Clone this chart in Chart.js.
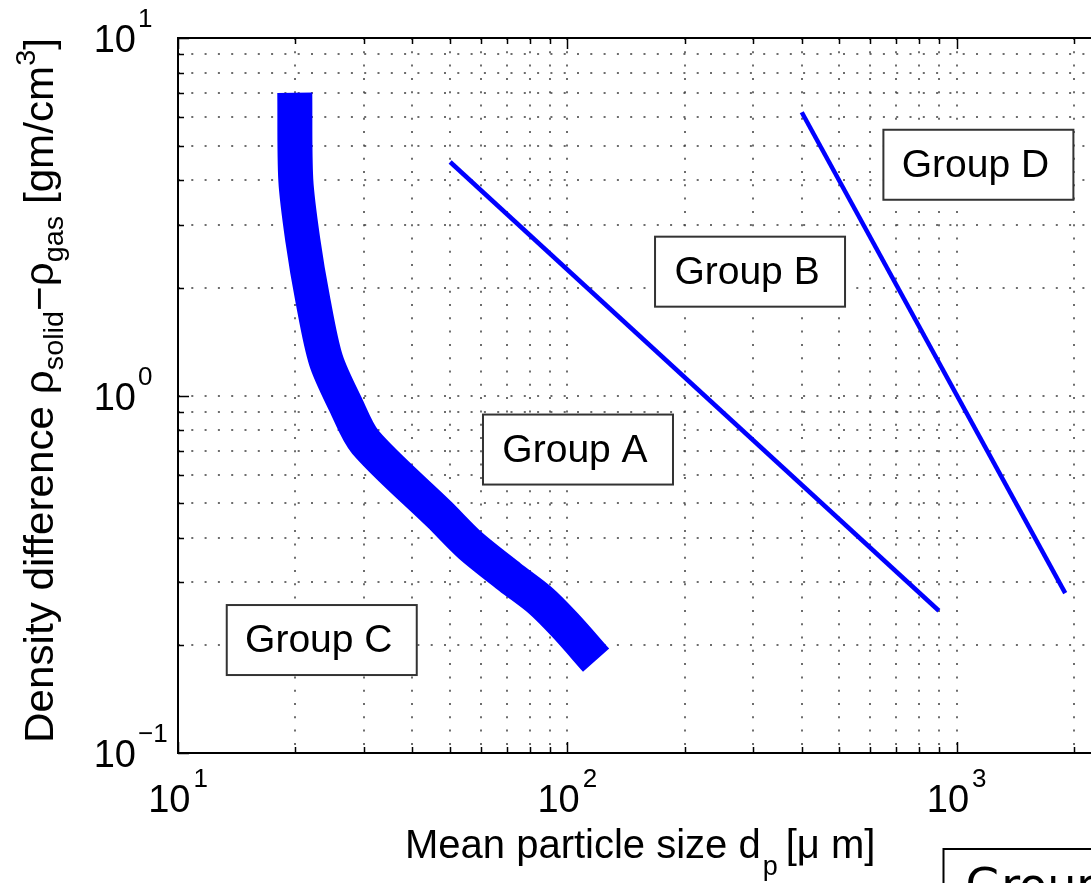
<!DOCTYPE html>
<html>
<head>
<meta charset="utf-8">
<script src="https://cdn.jsdelivr.net/npm/chart.js@4.4.1/dist/chart.umd.min.js"></script>
<style>
  html, body { margin: 0; padding: 0; background: #fff; }
</style>
</head>
<body>
<canvas id="chart" width="1091" height="883"></canvas>
<script>
// Geldart groups: boundary lines, mean particle size (um) vs density difference (g/cm3)
const acSizes   = [19.95, 20.07, 20.92, 22.2, 23.98, 26.99, 30.3, 47.09, 56.22, 71.24, 85.06, 98.65, 118.55];
const acDensity = [7.03, 4.01, 2.72, 1.85, 1.257, 0.94, 0.74, 0.463, 0.3815, 0.3103, 0.2677, 0.2278, 0.1818];
const abSizes   = [50, 900];
const abDensity = [4.5, 0.25];
const bdSizes   = [400, 1900];
const bdDensity = [6.2, 0.28];

const groupNames   = ['Group A', 'Group B', 'Group C', 'Group D'];
const groupSizes   = [106.5, 294.6, 23.4, 1137];
const groupDensity = [0.706, 2.22, 0.207, 4.42];

const xDecades = [10, 100, 1000];
const yDecades = [0.1, 1, 10];
const xTickLabels = [['10', '1'], ['10', '2'], ['10', '3']];
const yTickLabels = [['10', '\u22121'], ['10', '0'], ['10', '1']];
const gridSteps = [1, 2, 3, 4, 5, 6, 7, 8, 9];

const FONT = '"Liberation Sans", Arial, Helvetica, sans-serif';

function pts(xs, ys) {
    return xs.map((x, i) => ({ x: x, y: ys[i] }));
}

// every 1..9 x 10^n inside the axis range
function gridValues(decades, min, max) {
    const out = [];
    decades.forEach(d => gridSteps.forEach(s => {
        const v = +(d * s).toPrecision(6);
        if (v >= min - 1e-9 && v <= max + 1e-9) out.push(v);
    }));
    const last = decades[decades.length - 1] * 10;
    if (last <= max && out.indexOf(last) < 0) out.push(last);
    return out;
}

const axisDecor = {
    id: 'axisDecor',
    afterDatasetsDraw(chart) {
        const ctx = chart.ctx;
        const xs = chart.scales.x, ys = chart.scales.y;
        // group text boxes
        ctx.save();
        ctx.font = '39px ' + FONT;
        ctx.textAlign = 'center';
        ctx.textBaseline = 'alphabetic';
        groupNames.forEach((name, i) => {
            const cx = xs.getPixelForValue(groupSizes[i]);
            const cy = ys.getPixelForValue(groupDensity[i]);
            const w = 190, h = 70;
            ctx.fillStyle = '#fff';
            ctx.fillRect(cx - w / 2, cy - h / 2, w, h);
            ctx.strokeStyle = '#333';
            ctx.lineWidth = 2;
            ctx.strokeRect(cx - w / 2, cy - h / 2, w, h);
            ctx.fillStyle = '#000';
            ctx.fillText(name, cx - 3, cy + 12);
        });
        ctx.restore();
    },
    afterDraw(chart) {
        const ctx = chart.ctx;
        const a = chart.chartArea;
        const xs = chart.scales.x, ys = chart.scales.y;
        ctx.save();

        // inward tick marks
        ctx.strokeStyle = '#000';
        ctx.lineWidth = 1.5;
        ctx.beginPath();
        gridValues(xDecades, xs.min, xs.max).forEach(v => {
            const px = Math.round(xs.getPixelForValue(v)) + 0.5;
            const len = xDecades.indexOf(v) >= 0 ? 11 : 6;
            ctx.moveTo(px, a.bottom); ctx.lineTo(px, a.bottom - len);
            ctx.moveTo(px, a.top); ctx.lineTo(px, a.top + len);
        });
        gridValues(yDecades, ys.min, ys.max).forEach(v => {
            const py = Math.round(ys.getPixelForValue(v)) + 0.5;
            const len = yDecades.indexOf(v) >= 0 ? 11 : 6;
            ctx.moveTo(a.left, py); ctx.lineTo(a.left + len, py);
        });
        ctx.stroke();

        // axes box (right side is off the picture)
        ctx.lineWidth = 2;
        ctx.beginPath();
        ctx.moveTo(a.right + 5, a.top);
        ctx.lineTo(a.left, a.top);
        ctx.lineTo(a.left, a.bottom);
        ctx.lineTo(a.right + 5, a.bottom);
        ctx.stroke();

        // tick labels 10^n
        ctx.fillStyle = '#000';
        ctx.textBaseline = 'alphabetic';
        xDecades.forEach((v, i) => {
            const px = xs.getPixelForValue(v);
            ctx.font = '38px ' + FONT;
            const wm = ctx.measureText(xTickLabels[i][0]).width;
            ctx.font = '26px ' + FONT;
            const we = ctx.measureText(xTickLabels[i][1]).width;
            const x0 = px - (wm + 3 + we) / 2;
            ctx.font = '38px ' + FONT;
            ctx.textAlign = 'left';
            ctx.fillText(xTickLabels[i][0], x0, a.bottom + 59);
            ctx.font = '26px ' + FONT;
            ctx.fillText(xTickLabels[i][1], x0 + wm + 3, a.bottom + 34);
        });
        yDecades.forEach((v, i) => {
            const py = ys.getPixelForValue(v);
            ctx.font = '38px ' + FONT;
            ctx.textAlign = 'right';
            ctx.fillText(yTickLabels[i][0], a.left - 42, py + 14);
            ctx.font = '26px ' + FONT;
            ctx.textAlign = 'left';
            ctx.fillText(yTickLabels[i][1], a.left - 40, py - 11);
        });

        // x title: Mean particle size d_p [µ m]
        let x = a.left + 227;
        const by = a.bottom + 105;
        ctx.textAlign = 'left';
        ctx.font = '40px ' + FONT;
        ctx.fillText('Mean particle size d', x, by);
        x += ctx.measureText('Mean particle size d').width + 2;
        ctx.font = '27px ' + FONT;
        ctx.fillText('p', x, by + 17);
        x += ctx.measureText('p').width + 8;
        ctx.font = '40px ' + FONT;
        ctx.fillText('[\u03bc m]', x, by);

        // y title, rotated
        const segs = [
            ['Density difference \u03c1', 41, 0],
            ['solid', 28, 10],
            ['\u2212\u03c1', 41, 0],
            ['gas', 28, 10],
            [' [gm/cm', 41, 0],
            ['3', 28, -18],
            [']', 41, 0]
        ];
        let total = 0;
        segs.forEach(s => { ctx.font = s[1] + 'px ' + FONT; total += ctx.measureText(s[0]).width; });
        const span = 705;
        ctx.translate(53, a.bottom - 10);
        ctx.rotate(-Math.PI / 2);
        ctx.scale(span / total, 1);
        let tx = 0;
        segs.forEach(s => {
            ctx.font = s[1] + 'px ' + FONT;
            ctx.fillText(s[0], tx, s[2]);
            tx += ctx.measureText(s[0]).width;
        });
        ctx.setTransform(1, 0, 0, 1, 0, 0);

        // partly visible text box below the axes
        const bx = xs.getPixelForValue(925);
        const byTop = a.bottom + 96;
        ctx.strokeStyle = '#000';
        ctx.lineWidth = 2;
        ctx.strokeRect(bx, byTop, 400, 120);
        ctx.font = '46px "DejaVu Sans", sans-serif';
        ctx.fillText('Group', bx + 22, byTop + 52);

        ctx.restore();
    }
};

const gridStyle = {
    display: true,
    drawTicks: false,
    drawOnChartArea: true,
    color: 'rgba(60,60,60,0.75)',
    lineWidth: 2
};

new Chart(document.getElementById('chart'), {
    type: 'line',
    data: {
        datasets: [{
            data: pts(acSizes, acDensity),
            borderColor: '#0000ff',
            borderWidth: 35,
            borderCapStyle: 'butt',
            borderJoinStyle: 'round',
            tension: 0.3,
            pointRadius: 0
        }, {
            data: pts(abSizes, abDensity),
            borderColor: '#0000ff',
            borderWidth: 4.5,
            pointRadius: 0
        }, {
            data: pts(bdSizes, bdDensity),
            borderColor: '#0000ff',
            borderWidth: 4.5,
            pointRadius: 0
        }]
    },
    options: {
        responsive: false,
        animation: false,
        devicePixelRatio: 1,
        layout: {
            autoPadding: false,
            padding: { left: 178, top: 38, right: 0, bottom: 130 }
        },
        plugins: {
            legend: { display: false },
            tooltip: { enabled: false }
        },
        scales: {
            x: {
                type: 'logarithmic',
                min: 10,
                max: 2213,
                afterBuildTicks: axis => {
                    axis.ticks = gridValues(xDecades, axis.min, axis.max).map(v => ({ value: v }));
                },
                ticks: { display: false, autoSkip: false },
                grid: gridStyle,
                border: { display: false, dash: [2, 11.3] }
            },
            y: {
                type: 'logarithmic',
                min: 0.1,
                max: 10,
                afterBuildTicks: axis => {
                    axis.ticks = gridValues(yDecades, axis.min, axis.max).map(v => ({ value: v }));
                },
                ticks: { display: false, autoSkip: false },
                grid: gridStyle,
                border: { display: false, dash: [2, 11.3] }
            }
        }
    },
    plugins: [axisDecor]
});
</script>
</body>
</html>
